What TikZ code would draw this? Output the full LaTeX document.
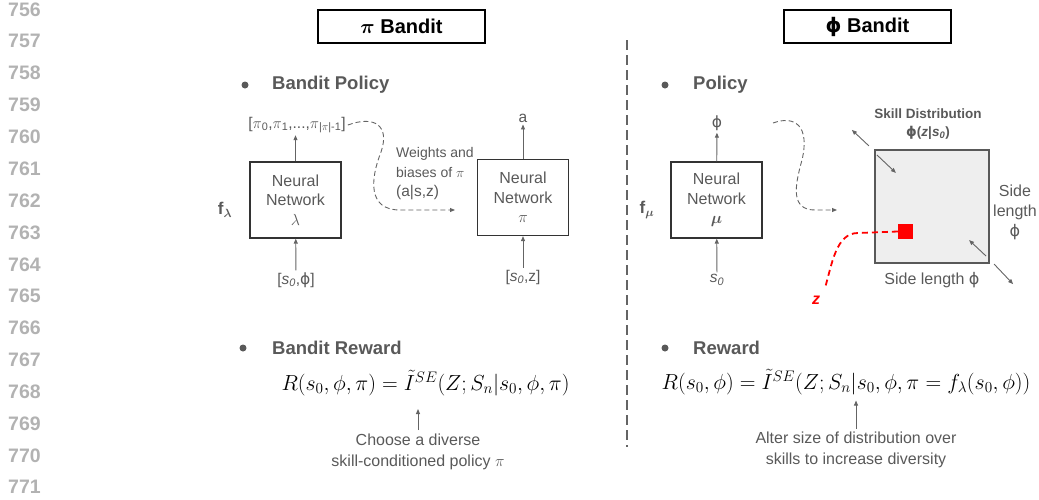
\documentclass[tikz,border=0pt]{standalone}
\usepackage{fix-cm}
\usepackage{amsmath}
\usepackage{fontspec}
\setmainfont{Liberation Sans}
\newfontfamily\phifont{DejaVu Sans}
\usetikzlibrary{arrows.meta,calc,positioning}

\definecolor{txtgray}{RGB}{89,89,89}
\definecolor{boxgray}{RGB}{51,51,51}
\definecolor{linegray}{RGB}{100,100,100}
\definecolor{numgray}{RGB}{178,178,178}
\definecolor{skillfill}{RGB}{238,238,238}
\definecolor{zred}{RGB}{255,0,0}

\newcommand\setfs[2]{\fontsize{#1}{#2}\selectfont}
\newcommand\vphi{{\phifont ϕ}}

\tikzset{
  lineno/.style={anchor=west,inner sep=0pt,text=numgray,font=\setfs{19.5}{22}\bfseries},
  titlebox/.style={draw=black,line width=1.4pt,minimum width=167pt,minimum height=33pt,font=\setfs{20}{24}\bfseries},
  head/.style={anchor=west,inner sep=0pt,text=txtgray,font=\setfs{18.5}{22}\bfseries},
  bulletdot/.style={circle,fill=txtgray,inner sep=0pt,minimum size=7pt},
  nnbox/.style={draw=boxgray,line width=1.2pt,minimum width=91pt,minimum height=76pt,align=center,text=txtgray,font=\setfs{16}{19.5}},
  lbl/.style={text=txtgray,inner sep=2pt,font=\setfs{15.5}{19.5}},
  flab/.style={text=txtgray,font=\setfs{17}{20}},
  note/.style={text=txtgray,align=center,font=\setfs{16}{21}},
  flow/.style={draw=linegray,line width=0.9pt,-{Triangle[length=5pt,width=4pt]}},
  weightflow/.style={draw=linegray,line width=0.9pt,dash pattern=on 5pt off 3pt,-{Triangle[length=5pt,width=4pt]}},
  divider/.style={draw=linegray,line width=1.5pt,dash pattern=on 10pt off 5pt},
  skillbox/.style={draw=txtgray,fill=skillfill,line width=2.2pt,minimum width=114pt,minimum height=113pt},
  redsq/.style={fill=zred,inner sep=0pt,minimum size=15pt},
  zflow/.style={draw=zred,line width=1.8pt,dash pattern=on 6pt off 4pt},
  eqn/.style={inner sep=0pt,font=\setfs{21.8}{26}}
}

\begin{document}
\begin{tikzpicture}[x=1pt,y=-1pt]
\useasboundingbox (0,0) rectangle (1039,499);

% line numbers
\foreach \n in {756,...,771}
  \node[lineno] at (8,{9.5+(\n-756)*31.85}) {\n};

% titles and divider
\node[titlebox] (pititle) at (401.5,26.5) {$\boldsymbol{\pi}$ Bandit};
\node[titlebox] (phititle) at (867.5,26.5) {\vphi{} Bandit};
\draw[divider] (627,40) -- (627,447);

% pi bandit: policy
\node[bulletdot] (b1) at (245,85) {};
\node[head] (hpol) at (272,85) {Bandit Policy};
\node[nnbox] (nnlam) at (295.5,200) {Neural\\Network\\$\lambda$};
\node[lbl] (pilist) at (297,125) {[$\pi$\textsubscript{0},$\pi$\textsubscript{1},...,$\pi$\textsubscript{|$\pi$|-1}]};
\node[lbl] (inlam) at (296,280) {[\textit{s}\textsubscript{\textit{0}},\vphi]};
\node[flab] (flam) at (225,210) {\textbf{f}\textsubscript{$\boldsymbol{\lambda}$}};
\draw[flow] (inlam) -- (nnlam);
\draw[flow] (nnlam.north) -- (nnlam.north |- pilist.south);

\node[nnbox] (nnpi) at (523,197.5) {Neural\\Network\\$\pi$};
\node[lbl] (outa) at (523,118) {a};
\node[lbl] (inpi) at (523,277) {[\textit{s}\textsubscript{\textit{0}},z]};
\draw[flow] (inpi) -- (nnpi);
\draw[flow] (nnpi) -- (outa);

\node[lbl,anchor=west,align=left,font=\setfs{14}{19.5}] (wlabel) at (394,174) {Weights and\\biases of $\pi$\\{\setfs{15.5}{19.5}(a|s,z)}};
\coordinate (w1) at (455,210);
\draw[weightflow] (pilist.east) .. controls (375,115) and (390,126) .. (381,152)
  .. controls (370,180) and (368,210) .. (400,210) -- (w1);

% pi bandit: reward
\node[bulletdot] (b2) at (243,348) {};
\node[head] (hrew) at (272,348) {Bandit Reward};
\node[eqn] (eqpi) at (425.5,383) {$R(s_0,\phi,\pi)=\tilde{I}^{SE}(Z;S_n|s_0,\phi,\pi)$};
\node[note] (notepi) at (418,451.5) {Choose a diverse\\skill-conditioned policy $\pi$};
\draw[flow] (notepi.north) -- ++(0,-21);

% phi bandit: policy
\node[bulletdot] (b3) at (665,85) {};
\node[head] (hpol2) at (693,85) {Policy};
\node[nnbox] (nnmu) at (716.5,200) {Neural\\Network\\$\boldsymbol{\mu}$};
\node[lbl] (outphi) at (717,123) {\vphi};
\node[lbl] (inmu) at (717,280) {\textit{s}\textsubscript{\textit{0}}};
\node[flab] (fmu) at (647,210) {\textbf{f}\textsubscript{$\boldsymbol{\mu}$}};
\draw[flow] (inmu) -- (nnmu);
\draw[flow] (nnmu) -- (outphi);

\coordinate (m0) at (773,123);
\coordinate (m1) at (837,210);
\draw[weightflow] (m0) .. controls (795,115) and (810,126) .. (802,160)
  .. controls (795,185) and (790,210) .. (815,210) -- (m1);

% skill distribution
\node[skillbox] (skill) at (932,206.5) {};
\node[lbl,align=center,font=\setfs{13.5}{18}\bfseries] (skillname) at (928,124) {Skill Distribution\\\vphi(\textit{z}|\textit{s}\textsubscript{\textit{0}})};
\node[lbl,align=center,font=\setfs{16}{20}] (sidev) at (1015,212) {Side\\length\\\vphi};
\node[lbl,font=\setfs{16}{20}] (sideh) at (932,280) {Side length \vphi};
\draw[flow] ($(skill.north west)+(-5,-3)$) -- ($(skill.north west)+(-22,-19)$);
\draw[flow] ($(skill.north west)+(3,6)$) -- ($(skill.north west)+(22,24)$);
\draw[flow] ($(skill.south east)+(-4,-8)$) -- ($(skill.south east)+(-21,-24)$);
\draw[flow] ($(skill.south east)+(4,0)$) -- ($(skill.south east)+(23,20)$);

\node[redsq] (zpt) at (905.5,231.5) {};
\coordinate (zend) at (825,288);
\draw[zflow] (zpt.west) -- (858,233) .. controls (836,233) and (832,264) .. (zend);
\node[text=zred,font=\setfs{16}{20}\bfseries\itshape] (zlab) at (816,300) {z};

% phi bandit: reward
\node[bulletdot] (b4) at (665,348) {};
\node[head] (hrew2) at (693,348) {Reward};
\node[eqn] (eqphi) at (846,382) {$R(s_0,\phi)=\tilde{I}^{SE}(Z;S_n|s_0,\phi,\pi=f_\lambda(s_0,\phi))$};
\node[note] (notephi) at (856,450) {Alter size of distribution over\\skills to increase diversity};
\draw[flow] (notephi.north) -- ++(0,-28);

\end{tikzpicture}
\end{document}
